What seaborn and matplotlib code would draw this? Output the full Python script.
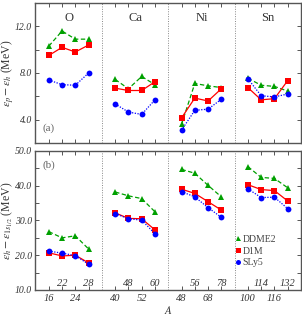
import numpy as np
import pandas as pd
import matplotlib
matplotlib.use("Agg")
import matplotlib.pyplot as plt
import seaborn as sns
from matplotlib.lines import Line2D

# ---------------- data ----------------
groups = ["O", "Ca", "Ni", "Sn"]
mass_numbers = [[16, 22, 24, 28], [40, 48, 52, 60], [48, 56, 68, 78], [100, 114, 116, 132]]
models = ["DDME2", "D1M", "SLy5"]

# panel (a): eps_p - eps_h (MeV)
gap_ddme2 = [[10.3, 11.6, 10.9, 10.9], [7.45, 6.65, 7.7, 7.0], [3.6, 7.1, 6.9, 6.75], [7.55, 6.95, 6.85, 6.45]]
gap_d1m = [[9.5, 10.2, 9.8, 10.4], [6.7, 6.5, 6.5, 7.25], [4.15, 5.85, 5.6, 6.65], [6.75, 5.7, 5.8, 7.35]]
gap_sly5 = [[7.4, 7.0, 6.95, 8.0], [5.35, 4.65, 4.45, 5.7], [3.1, 4.8, 4.9, 5.75], [7.5, 6.05, 5.95, 6.2]]

# panel (b): eps_h - eps_1s1/2 (MeV)
depth_ddme2 = [[26.8, 25.0, 25.6, 21.8], [38.2, 37.1, 36.3, 32.5], [44.7, 43.6, 40.1, 36.8], [45.5, 42.4, 42.1, 39.4]]
depth_d1m = [[20.7, 19.8, 20.0, 17.8], [32.2, 30.6, 30.5, 27.3], [39.0, 37.8, 35.4, 33.0], [40.3, 38.9, 38.6, 35.6]]
depth_sly5 = [[21.2, 20.6, 19.9, 17.4], [32.0, 30.5, 30.1, 26.2], [38.3, 36.8, 33.7, 30.9], [39.1, 36.6, 36.7, 33.4]]

# ---------------- style ----------------
sns.set_theme(style="ticks")
plt.rcParams["font.family"] = ["Liberation Serif", "DejaVu Serif"]
plt.rcParams["mathtext.fontset"] = "stix"

colors = {"DDME2": "#00a000", "D1M": "#ff0000", "SLy5": "#0000ff"}
markers = {"DDME2": "^", "D1M": "s", "SLy5": "o"}
dashes = {"DDME2": (3.5, 2), "D1M": "", "SLy5": (1, 1.2)}
axc = "#555555"


def build_frame(series):
    rows = []
    for m, vals in zip(models, series):
        for gi, g in enumerate(groups):
            for k in range(4):
                rows.append({"model": m, "group": g, "x": gi * 5 + k + 1,
                             "A": mass_numbers[gi][k], "value": vals[gi][k]})
    return pd.DataFrame(rows)


df_a = build_frame([gap_ddme2, gap_d1m, gap_sly5])
df_b = build_frame([depth_ddme2, depth_d1m, depth_sly5])

fig = plt.figure(figsize=(3.02, 3.16), dpi=100)
ax1 = fig.add_axes([0.1175, 0.5475, 0.8792, 0.443])
ax2 = fig.add_axes([0.1175, 0.0823, 0.8792, 0.4399])

for ax, df in ((ax1, df_a), (ax2, df_b)):
    sns.lineplot(data=df, x="x", y="value", hue="model", style="model",
                 units="group", estimator=None, sort=True,
                 palette=colors, markers=markers, dashes=dashes,
                 hue_order=models, style_order=models,
                 markersize=4.2, markeredgewidth=0, linewidth=0.9,
                 legend=False, ax=ax, zorder=3)
    for sx in (5, 10, 15):
        ax.axvline(sx, color="#888888", lw=0.7, ls=(0, (1, 1.5)), zorder=1)
    ax.set_xlim(0, 20)
    ax.set_xlabel("")
    for s in ax.spines.values():
        s.set_color(axc)
        s.set_linewidth(1.0)
    ax.tick_params(which="both", direction="in", top=True, right=True,
                   color=axc, labelsize=7, labelcolor="#333333")
    ax.tick_params(which="major", length=3.2, width=0.7)
    ax.tick_params(which="minor", length=3.2, width=0.7)
    ax.tick_params(axis="y", which="major", pad=2.5)

# x ticks
pos_all = [gi * 5 + k + 1 for gi in range(4) for k in range(4)]
pos_low = [gi * 5 + k + 1 for gi in range(4) for k in (0, 2)]
pos_high = [gi * 5 + k + 1 for gi in range(4) for k in (1, 3)]
lab_low = [str(mass_numbers[gi][k]) for gi in range(4) for k in (0, 2)]
lab_high = [str(mass_numbers[gi][k]) for gi in range(4) for k in (1, 3)]

ax1.set_xticks(pos_all)
ax1.set_xticklabels([])
ax2.set_xticks(pos_low)
ax2.set_xticklabels(lab_low, fontstyle="italic")
ax2.set_xticks(pos_high, minor=True)
ax2.set_xticklabels(lab_high, minor=True, fontstyle="italic")
ax2.tick_params(axis="x", which="minor", pad=-8.0, labelsize=7.5)
ax2.tick_params(axis="x", which="major", pad=3, labelsize=7.5)

# y ticks
ax1.set_ylim(2, 14)
ax1.set_yticks([4, 8, 12])
ax1.set_yticks([2, 6, 10, 14], minor=True)
ax1.set_yticklabels(["4.0", "8.0", "12.0"], fontstyle="italic")
ax2.set_ylim(10, 50)
ax2.set_yticks([10, 20, 30, 40, 50])
ax2.set_yticks([15, 25, 35, 45], minor=True)
ax2.set_yticklabels(["10.0", "20.0", "30.0", "40.0", "50.0"], fontstyle="italic")
ax1.tick_params(axis="y", which="minor", labelleft=False)
ax2.tick_params(axis="y", which="minor", labelleft=False)

ax1.set_ylabel(r"$\epsilon_p - \epsilon_h$ (MeV)", fontsize=8.5, color="#333333")
ax2.set_ylabel(r"$\epsilon_h - \epsilon_{1s_{1/2}}$ (MeV)", fontsize=8.5, color="#333333")
ax2.set_xlabel("$A$", fontsize=8, color="#333333")
ax1.yaxis.set_label_coords(-0.075, 0.5)
ax2.yaxis.set_label_coords(-0.078, 0.5)
ax2.xaxis.set_label_coords(0.5, -0.1)

for gi, g in enumerate(groups):
    ax1.text(gi * 5 + 2.5, 12.7, g, ha="center", va="center", fontsize=9, color="#333333")
ax1.text(1, 3.25, "(a)", ha="center", va="center", fontsize=8, color="#666666")
ax2.text(1, 46, "(b)", ha="center", va="center", fontsize=8, color="#666666")

handles = [Line2D([], [], ls="none", marker=markers[m], color=colors[m], markersize=3.6, markeredgewidth=0)
           for m in models]
ax2.legend(handles, models, loc="upper left", bbox_to_anchor=(0.73, 0.44), frameon=False,
           fontsize=7, handlelength=0.5, handletextpad=0.25, labelspacing=0.3,
           borderpad=0.1, labelcolor="#444444")

fig.savefig("out.png", dpi=100)
